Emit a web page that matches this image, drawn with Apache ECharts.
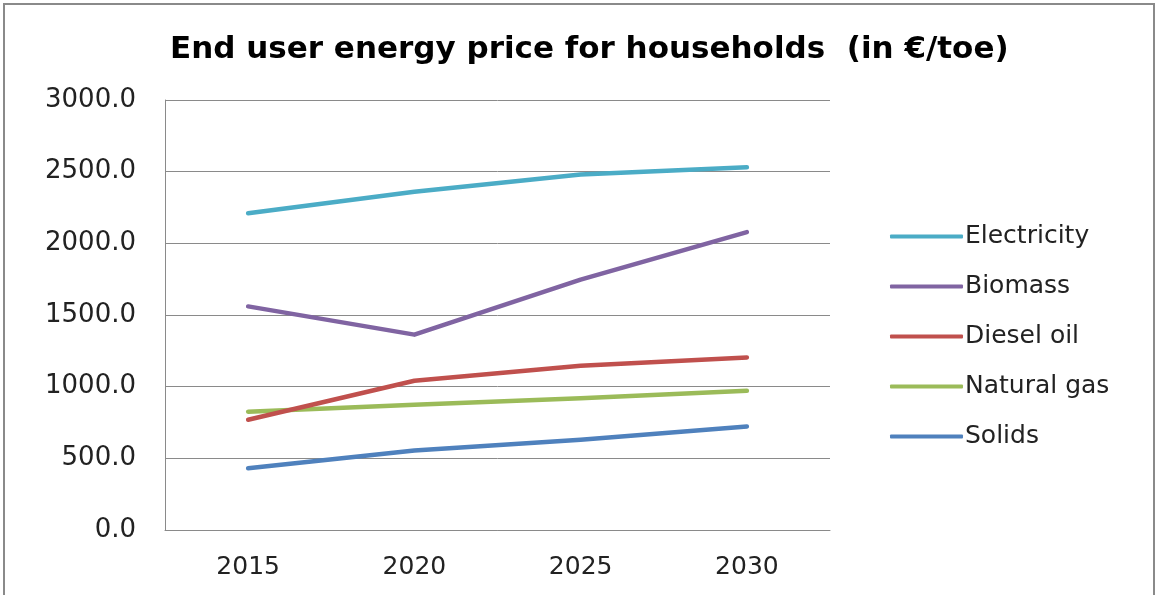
<!DOCTYPE html>
<html>
<head>
<meta charset="utf-8">
<script src="https://cdn.jsdelivr.net/npm/echarts@6/dist/echarts.min.js"></script>
<style>
  html, body { margin: 0; padding: 0; background: #fff; }
  #chart { width: 1159px; height: 595px; }
</style>
</head>
<body>
<div id="chart"></div>
<script>
const years = ['2015', '2020', '2025', '2030'];
const electricity = [2210, 2360, 2480, 2530];
const biomass = [1560, 1363, 1747, 2078];
const dieselOil = [769, 1041, 1146, 1204];
const naturalGas = [825, 873, 920, 971];
const solids = [431, 554, 629, 722];

const seriesNames = ['Electricity', 'Biomass', 'Diesel oil', 'Natural gas', 'Solids'];
const seriesData = [electricity, biomass, dieselOil, naturalGas, solids];
const colors = ['#4BACC6', '#8064A2', '#C0504D', '#9BBB59', '#4F81BD'];

const font = 'DejaVu Sans';
const chart = echarts.init(document.getElementById('chart'));

chart.setOption({
  animation: false,
  color: colors,
  title: {
    text: 'End user energy price for households  (in €/toe)',
    left: 165,
    top: 29,
    textStyle: { fontFamily: font, fontSize: 31, fontWeight: 'bold', color: '#000' }
  },
  graphic: [{
    type: 'rect',
    shape: { x: 4, y: 4, width: 1150, height: 600 },
    style: { fill: 'none', stroke: '#8a8a8a', lineWidth: 2 },
    silent: true
  }],
  legend: {
    orient: 'vertical',
    left: 885,
    top: 219,
    icon: 'roundRect',
    itemWidth: 73,
    itemHeight: 4,
    itemGap: 25,
    selectedMode: false,
    textStyle: { fontFamily: font, fontSize: 25, color: '#222', padding: [0, 0, 0, -3] },
    data: seriesNames
  },
  grid: { left: 165, right: 329, top: 100, bottom: 65, containLabel: false },
  xAxis: {
    type: 'category',
    data: years,
    boundaryGap: true,
    axisLine: { lineStyle: { color: '#8a8a8a', width: 1 } },
    axisTick: { show: false },
    axisLabel: { margin: 25, fontFamily: font, fontSize: 25, color: '#222' }
  },
  yAxis: {
    type: 'value',
    min: 0,
    max: 3000,
    interval: 500,
    axisLine: { show: true, lineStyle: { color: '#8a8a8a', width: 1 } },
    axisTick: { show: false },
    splitLine: { lineStyle: { color: '#8a8a8a', width: 1 } },
    axisLabel: {
      margin: 29,
      fontFamily: font,
      fontSize: 26,
      color: '#222',
      formatter: v => v.toFixed(1)
    }
  },
  series: seriesNames.map((name, i) => ({
    name: name,
    type: 'line',
    data: seriesData[i],
    showSymbol: false,
    symbol: 'none',
    lineStyle: { width: 4.5, cap: 'round', join: 'round' },
    z: 10 - i
  }))
});
</script>
</body>
</html>
